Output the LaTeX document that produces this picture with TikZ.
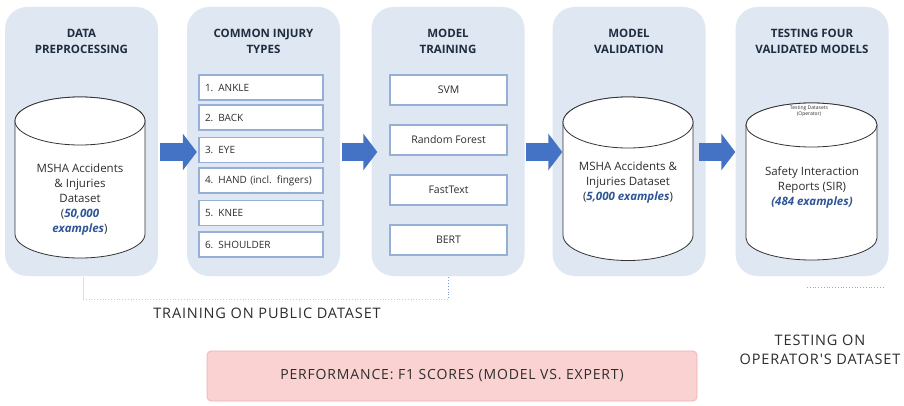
\documentclass[tikz,border=0pt]{standalone}
\usepackage{fontspec}
\setmainfont{Open Sans}
\newfontfamily\lowfont[LetterSpace=6]{Open Sans}
\usetikzlibrary{arrows.meta}
\definecolor{panelc}{RGB}{222,231,242}
\definecolor{navy}{RGB}{31,45,64}
\definecolor{txt}{RGB}{45,45,45}
\definecolor{accent}{RGB}{47,85,151}
\definecolor{arrowblue}{RGB}{68,114,196}
\definecolor{boxedge}{RGB}{150,175,212}
\definecolor{pinkfill}{RGB}{250,210,210}
\definecolor{pinkedge}{RGB}{238,175,175}
\newcommand\drawcyl[5]{%
  \pgfmathsetmacro\cylcx{(#1+#2)/2}%
  \pgfmathsetmacro\cylrx{(#2-#1)/2}%
  \filldraw[cylline] (#1,#3) -- (#1,#4) arc[start angle=180,end angle=0,x radius=\cylrx,y radius=#5] -- (#2,#3) arc[start angle=0,end angle=-180,x radius=\cylrx,y radius=#5] -- cycle;
  \draw[cylline] (\cylcx,#3) ellipse[x radius=\cylrx, y radius=#5];
}
\newcommand\acc[1]{\textcolor{accent}{\bfseries\itshape #1}}
\begin{document}
\begin{tikzpicture}[x=1pt,y=-1pt,
  panel/.style={fill=panelc, rounded corners=22pt, minimum width=153pt, minimum height=269pt, inner sep=0pt},
  ptitle/.style={font=\fontsize{11.5}{16.5}\selectfont\bfseries, text=navy, align=center},
  cylline/.style={draw=black!80, line width=0.8pt, fill=white},
  cyltext/.style={font=\fontsize{11.5}{15}\selectfont, text=txt, align=center},
  injbox/.style={draw=boxedge, line width=1.1pt, fill=white, minimum width=124pt, minimum height=25pt, inner sep=0pt, text width=112pt, align=left, font=\fontsize{10}{12}\selectfont, text=txt},
  modbox/.style={draw=boxedge, line width=1.1pt, fill=white, minimum width=117pt, minimum height=30pt, inner sep=0pt, align=center, font=\fontsize{10.5}{12}\selectfont, text=txt},
  bigarrow/.style={draw=arrowblue, line width=18pt, -{Triangle[length=14pt,width=36pt]}},
  lowtext/.style={font=\lowfont\fontsize{14.5}{19}\selectfont, text=txt, align=center},
  perf/.style={fill=pinkfill, draw=pinkedge, line width=0.6pt, rounded corners=4pt, minimum width=490pt, minimum height=50pt, inner sep=0pt, font=\lowfont\fontsize{14}{16}\selectfont, text=txt}
]
\useasboundingbox (0,0) rectangle (904,406);
\fill[white] (0,0) rectangle (904,406);

% panels
\node[panel] (p1) at (81.5,141.5) {};
\node[panel] (p2) at (263.5,141.5) {};
\node[panel] (p3) at (448,141.5) {};
\node[panel] (p4) at (629,141.5) {};
\node[panel] (p5) at (812,141.5) {};

% titles
\node[ptitle] (t1) at (81.5,41.5) {DATA\\PREPROCESSING};
\node[ptitle] (t2) at (263.5,41.5) {COMMON INJURY\\TYPES};
\node[ptitle] (t3) at (448,41.5) {MODEL\\TRAINING};
\node[ptitle] (t4) at (629,41.5) {MODEL\\VALIDATION};
\node[ptitle] (t5) at (812,41.5) {TESTING FOUR\\VALIDATED MODELS};

% cylinders
\drawcyl{15}{145}{121}{234}{24}
\node[cyltext] (c1) at (80,200) {MSHA Accidents\\\& Injuries\\Dataset\\(\acc{50,000}\\\acc{examples})};
\drawcyl{563}{693}{122.5}{235}{25.5}
\node[cyltext] (c4) at (628,183) {MSHA Accidents \&\\Injuries Dataset\\(\acc{5,000 examples})};
\drawcyl{746}{877}{125}{238}{22}
\node[font=\fontsize{5}{6}\selectfont, text=txt, align=center] (c5s) at (809,111.5) {Testing Datasets\\(Operator)};
\node[cyltext] (c5) at (812,187) {Safety Interaction\\Reports (SIR)\\\acc{(484 examples)}};

% injury types
\node[injbox] (i1) at (261,87.5) {1. ANKLE};
\node[injbox] (i2) at (261,117.5) {2. BACK};
\node[injbox] (i3) at (261,150) {3. EYE};
\node[injbox] (i4) at (261,180.5) {4. HAND (incl. fingers)};
\node[injbox] (i5) at (261,213) {5. KNEE};
\node[injbox] (i6) at (261,244.5) {6. SHOULDER};

% models
\node[modbox] (m1) at (448.5,90) {SVM};
\node[modbox] (m2) at (448.5,140) {Random Forest};
\node[modbox] (m3) at (448.5,190) {FastText};
\node[modbox] (m4) at (448.5,240) {BERT};

% arrows
\draw[bigarrow] ([shift={(2,10.5)}]p1.east) -- ([shift={(10,10.5)}]p2.west);
\draw[bigarrow] ([shift={(2,10.5)}]p2.east) -- ([shift={(6,10.5)}]p3.west);
\draw[bigarrow] ([shift={(1,10.5)}]p3.east) -- ([shift={(10,10.5)}]p4.west);
\draw[bigarrow] ([shift={(-7,10.5)}]p4.east) -- ([shift={(0,10.5)}]p5.west);

% dotted brackets
\coordinate (d1) at (83,277);
\coordinate (d2) at (83,299);
\coordinate (d3) at (448,299);
\coordinate (d4) at (448,277);
\draw[black!12, line width=0.8pt] (d1) -- (d2);
\draw[black!20, line width=0.8pt, dotted] (d2) -- (d3);
\draw[arrowblue!70, line width=0.9pt, dotted] (d4) -- (d3);
\coordinate (e1) at (807,287);
\coordinate (e2) at (883,287);
\draw[black!35, line width=0.8pt, dotted] (e1) -- (e2);

% lower labels
\node[lowtext] (l1) at (267,313) {TRAINING ON PUBLIC DATASET};
\node[lowtext] (l2) at (820,350) {TESTING ON\\OPERATOR'S DATASET};

% performance
\node[perf] (pf) at (452,376) {PERFORMANCE: F1 SCORES (MODEL VS. EXPERT)};
\end{tikzpicture}
\end{document}
